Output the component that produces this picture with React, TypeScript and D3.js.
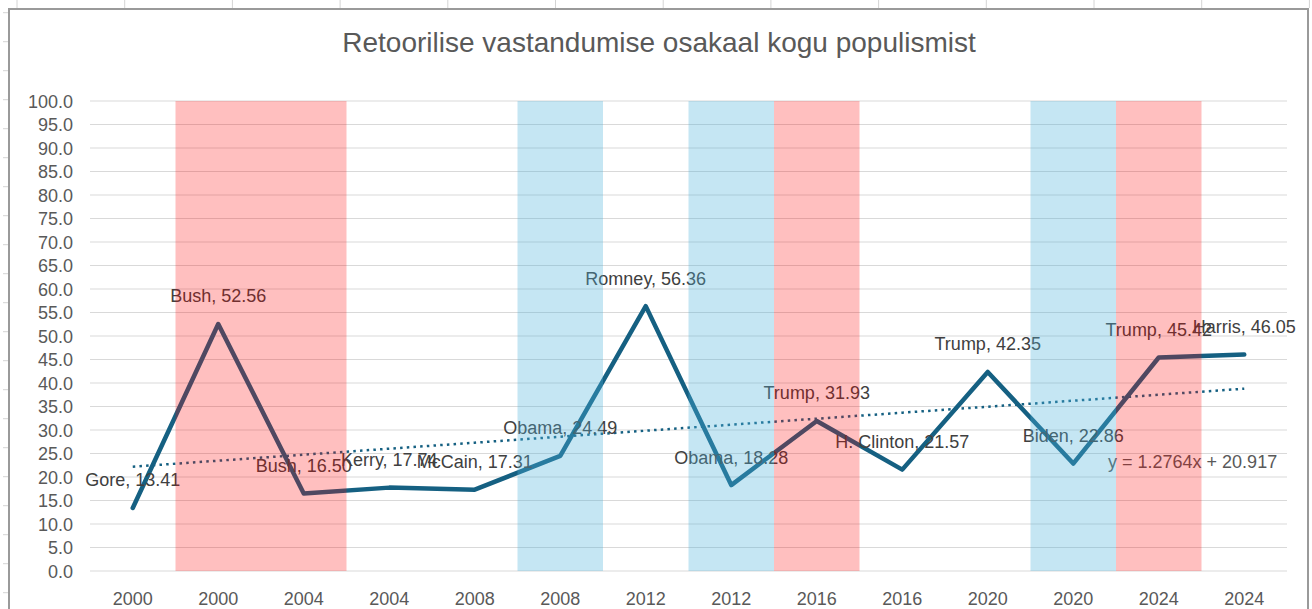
import * as d3 from "d3";

const years = ["2000", "2000", "2004", "2004", "2008", "2008", "2012", "2012", "2016", "2016", "2020", "2020", "2024", "2024"];
const candidates = ["Gore", "Bush", "Bush", "Kerry", "McCain", "Obama", "Romney", "Obama", "Trump", "H. Clinton", "Trump", "Biden", "Trump", "Harris"];
const shares = [13.41, 52.56, 16.5, 17.74, 17.31, 24.49, 56.36, 18.28, 31.93, 21.57, 42.35, 22.86, 45.42, 46.05];
// winner of each election, shown as a full-height band
const winners = ["", "R", "R", "", "", "D", "", "D", "R", "", "", "D", "R", ""];
const bandValue = 100;
const yTicks = d3.range(0, 101, 5);
const trendSlope = 1.2764;
const trendIntercept = 20.917;

const W = 1312;
const H = 609;
const margin = { top: 101, right: 25, bottom: 38, left: 90 };

const font = "'Liberation Sans', Arial, sans-serif";

export default function App() {
  const x = d3
    .scaleBand<number>()
    .domain(d3.range(years.length))
    .range([margin.left, W - margin.right])
    .padding(0);
  const y = d3.scaleLinear().domain([0, 100]).range([H - margin.bottom, margin.top]);
  const cx = (i: number) => (x(i) as number) + x.bandwidth() / 2;

  const line = d3
    .line<number>()
    .x((_, i) => cx(i))
    .y((d) => y(d));

  const trend = d3
    .line<number>()
    .x((i) => cx(i))
    .y((i) => y(trendSlope * (i + 1) + trendIntercept));

  const colTicks = d3.range(17, W, 107.7);
  const rowTicks = d3.range(12.7, H, 29);

  return (
    <svg width={W} height={H} style={{ position: "absolute", left: 0, top: 0, background: "#fff" }}>
      {/* spreadsheet gridlines peeking around the chart */}
      {colTicks.map((t) => (
        <line key={"c" + t} x1={t} x2={t} y1={0} y2={8} stroke="#d4d4d4" />
      ))}
      {rowTicks.map((t) => (
        <line key={"r" + t} x1={3} x2={8} y1={t} y2={t} stroke="#d4d4d4" />
      ))}
      <rect x={9} y={9} width={1299} height={640} fill="#fff" stroke="#9a9a9a" strokeWidth={2} />

      <text x={659} y={52} textAnchor="middle" fontFamily={font} fontSize={28} fill="#595959">
        Retoorilise vastandumise osakaal kogu populismist
      </text>

      {yTicks.map((t) => (
        <g key={t}>
          <line x1={margin.left} x2={W - margin.right} y1={y(t)} y2={y(t)} stroke="#d9d9d9" strokeWidth={1} />
          <text x={73} y={y(t) + 6.5} textAnchor="end" fontFamily={font} fontSize={18} fill="#595959">
            {t.toFixed(1)}
          </text>
        </g>
      ))}

      {years.map((yr, i) => (
        <text key={i} x={cx(i)} y={605} textAnchor="middle" fontFamily={font} fontSize={18} fill="#595959">
          {yr}
        </text>
      ))}

      <path d={line(shares) || ""} fill="none" stroke="#156082" strokeWidth={4.5} strokeLinejoin="round" strokeLinecap="round" />

      <path
        d={trend(d3.range(shares.length)) || ""}
        fill="none"
        stroke="#156082"
        strokeWidth={2.5}
        strokeDasharray="2.5 4.2"
      />

      {shares.map((v, i) => (
        <text key={i} x={cx(i)} y={y(v) - 21.5} textAnchor="middle" fontFamily={font} fontSize={18} fill="#404040">
          {candidates[i]}, {v.toFixed(2)}
        </text>
      ))}

      <text x={1108} y={468} fontFamily={font} fontSize={18} fill="#595959">
        y = {trendSlope}x + {trendIntercept}
      </text>

      {/* winner bands drawn on top, translucent */}
      {winners.map((w, i) =>
        w ? (
          <rect
            key={"b" + i}
            x={x(i)}
            width={x.bandwidth()}
            y={y(bandValue)}
            height={y(0) - y(bandValue)}
            fill={w === "R" ? "#ff0000" : "#4fb3dc"}
            fillOpacity={w === "R" ? 0.25 : 0.33}
          />
        ) : null
      )}
    </svg>
  );
}
